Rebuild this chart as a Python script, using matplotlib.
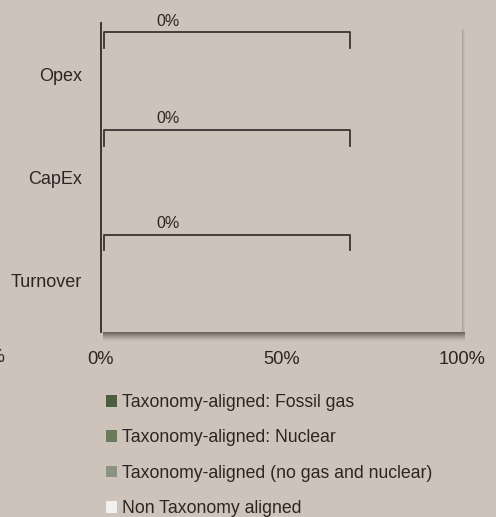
import matplotlib
matplotlib.use("Agg")
import matplotlib.pyplot as plt
from matplotlib.patches import Patch, Rectangle
import numpy as np

categories = ["Turnover", "CapEx", "Opex"]
series_names = ["Taxonomy-aligned: Fossil gas",
                "Taxonomy-aligned: Nuclear",
                "Taxonomy-aligned (no gas and nuclear)",
                "Non Taxonomy aligned"]
fossil_gas = [0, 0, 0]
nuclear = [0, 0, 0]
aligned_other = [0, 0, 0]
non_aligned = [0, 0, 0]
total_labels = ["0%", "0%", "0%"]
xtick_vals = [0, 50, 100]
xtick_labels = ["0%", "50%", "100%"]

colors = ["#4b5e3d", "#6b7a5b", "#8c9382", "#f3f1ef"]
bg = "#cdc3ba"
txt = "#2b2624"
W, H = 496, 517
plt.rcParams['font.family'] = ['Liberation Sans', 'DejaVu Sans']

fig = plt.figure(figsize=(W/100, H/100), dpi=100, facecolor=bg)

def fx(px): return px / W
def fy(py): return 1 - py / H

left, right, top, bottom = 101, 462, 23, 332
ax = fig.add_axes([fx(left), fy(bottom), fx(right) - fx(left), fy(top) - fy(bottom)])
ax.set_facecolor("none")

# shadow
for i, a in enumerate([0.75, 0.65, 0.55, 0.45, 0.35, 0.26, 0.18, 0.11, 0.06, 0.03]):
    fig.patches.append(Rectangle((fx(left + 2), fy(bottom + i + 1)), fx(right + 3) - fx(left + 2), 1 / H,
                                 transform=fig.transFigure, facecolor="#4a4542", alpha=a, edgecolor="none", zorder=0))
for i, a in enumerate([0.22, 0.1, 0.04]):
    fig.patches.append(Rectangle((fx(right + i), fy(bottom)), 1 / W, fy(29) - fy(bottom),
                                 transform=fig.transFigure, facecolor="#3a3532", alpha=a, edgecolor="none", zorder=0))

y = np.arange(len(categories))
lefts = np.zeros(len(categories))
for vals, c, name in zip([fossil_gas, nuclear, aligned_other, non_aligned], colors, series_names):
    ax.barh(y, vals, left=lefts, color=c, height=0.5, label=name)
    lefts += np.array(vals)

ax.set_xlim(0, 100)
ax.set_ylim(-0.495, 2.5)
ax.set_yticks(y)
ax.set_yticklabels(categories, fontsize=13, color=txt)
ax.set_xticks(xtick_vals)
ax.set_xticklabels(xtick_labels, fontsize=13.2, color=txt)
ax.tick_params(axis='y', length=0, pad=13.5)
ax.tick_params(axis='x', length=0, pad=13.6)
for s in ["top", "right", "bottom"]:
    ax.spines[s].set_visible(False)
ax.spines["left"].set_color("#2f2a28")
ax.spines["left"].set_linewidth(1.3)

# brackets
bx0, bx1 = 0.8, 69
offsets = [0.45, 0.465, 0.41]
for yi, lab, off in zip(y, total_labels, offsets):
    yb = yi + off
    ax.plot([bx0, bx0, bx1, bx1], [yb - 0.155, yb, yb, yb - 0.155], color="#3b3432", lw=1.3,
            solid_joinstyle="round", clip_on=False)
    ax.text(18.5, yb + 0.105, lab, ha="center", va="center", fontsize=11.5, color=txt, clip_on=False)

fig.text(fx(5), fy(358), "-50%", ha="right", va="center", fontsize=13.2, color=txt)

handles = [Patch(facecolor=c, edgecolor="none") for c in colors]
fig.legend(handles, series_names, loc="upper left", bbox_to_anchor=(fx(99), fy(387)),
           frameon=False, fontsize=12.7, handlelength=0.62, handleheight=0.62, handletextpad=0.3,
           labelspacing=1.04, labelcolor=txt, borderaxespad=0)

fig.savefig("out.png", dpi=100, facecolor=bg)
